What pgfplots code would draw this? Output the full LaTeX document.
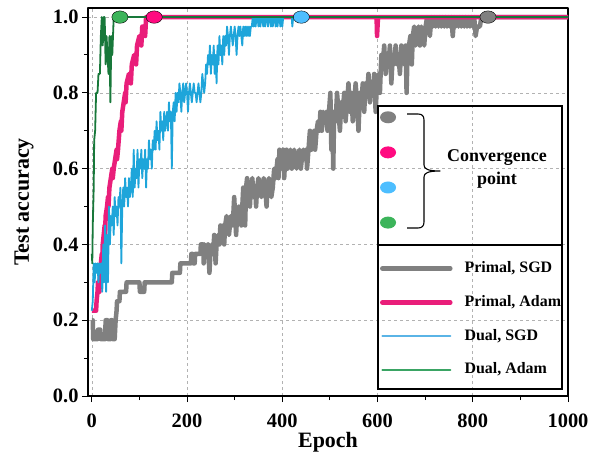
\documentclass[border=0pt]{standalone}
\usepackage{pgfplots}
\pgfplotsset{compat=1.18}
\usepackage{fontspec}
\setmainfont{Liberation Serif}
\definecolor{cgray}{HTML}{808080}
\definecolor{cpink}{HTML}{E91E7A}
\definecolor{cblue}{HTML}{1EA5DA}
\definecolor{cgreen}{HTML}{18783A}
\definecolor{dpink}{HTML}{FF0A80}
\definecolor{dblue}{HTML}{4DBEFF}
\definecolor{dgreen}{HTML}{3CB45A}
\definecolor{lblue}{HTML}{5AB4E6}
\definecolor{lgreen}{HTML}{3AA464}
\begin{document}
\begin{tikzpicture}
\begin{axis}[
 name=main,
 scale only axis, width=480bp, height=388bp,
 xmin=-8, xmax=1000, ymin=0, ymax=1.024,
 xtick={0,200,400,600,800,1000}, ytick={0,0.2,0.4,0.6,0.8,1.0},
 minor x tick num=1, minor y tick num=1,
 tick align=outside, xtick pos=left, ytick pos=left,
 major tick length=6bp, minor tick length=4bp,
 every tick/.style={black, line width=1bp},
 axis line style={line width=1.3bp},
 grid=major, major grid style={dash pattern=on 3bp off 3bp, gray!60, line width=0.6bp},
 tick label style={font=\fontsize{20.5}{24}\selectfont\bfseries},
 /pgf/number format/assume math mode=true,
 /pgf/number format/1000 sep={},
 xticklabel style={yshift=-8bp},
 yticklabel style={/pgf/number format/fixed, /pgf/number format/fixed zerofill, /pgf/number format/precision=1},
 xlabel={Epoch}, ylabel={Test accuracy},
 label style={font=\fontsize{22}{26}\selectfont\bfseries},
 xlabel style={at={(axis description cs:0.5,0)}, anchor=base, yshift=-51bp},
 ylabel style={at={(axis description cs:-0.133,0.5)}, anchor=center},
 legend image code/.code={\draw[#1, line cap=round] (0bp,0bp) -- (68bp,0bp);},
 legend cell align=left,
 legend style={at={(axis description cs:0.608,0.3477)}, anchor=north west, draw=none, fill=none,
   inner sep=0pt, row sep=19.4bp, column sep=12bp,
   font=\fontsize{16}{19}\selectfont\bfseries,
   nodes={inner sep=0pt, text height=11bp, text depth=3.5bp}},
 line join=round,
]
\addplot[forget plot, color=cgray, line width=4.5bp] coordinates {
(0,0.2) (2,0.2) (3,0.15) (12,0.15) (13,0.175) (18,0.175) (19,0.15) (28,0.15) (29,0.2) (33,0.2) (34,0.15) (39,0.15) (40,0.2) (43,0.2) (44,0.15) (48,0.15) (50,0.2) (52,0.225) (53,0.25) (58,0.25) (59,0.275) (72,0.275) (73,0.3) (100,0.3) (101,0.275) (110,0.275) (111,0.3) (168,0.3) (169,0.325) (185,0.325) (186,0.35) (208,0.35) (209,0.375) (212,0.375) (213,0.35) (216,0.35) (217,0.375) (228,0.375) (229,0.4) (234,0.4) (235,0.35) (237,0.4) (241,0.375) (244,0.4) (247,0.325) (249,0.375) (252,0.4) (255,0.375) (257,0.425) (260,0.35) (262,0.4) (265,0.425) (268,0.4) (270,0.45) (273,0.425) (276,0.45) (278,0.4) (280,0.45) (283,0.475) (285,0.45) (288,0.425) (290,0.45) (292,0.475) (295,0.45) (297,0.475) (299,0.525) (301,0.475) (303,0.425) (305,0.475) (308,0.5) (310,0.475) (312,0.5) (314,0.45) (316,0.5) (318,0.55) (320,0.525) (322,0.45) (324,0.55) (326,0.575) (328,0.525) (330,0.55) (332,0.5) (334,0.55) (337,0.575) (340,0.525) (343,0.55) (345,0.5) (347,0.55) (350,0.575) (353,0.55) (356,0.525) (358,0.55) (361,0.575) (364,0.55) (367,0.5) (369,0.55) (372,0.575) (375,0.55) (377,0.525) (380,0.55) (383,0.6) (386,0.575) (388,0.6) (390,0.625) (392,0.575) (394,0.65) (397,0.6) (399,0.625) (402,0.65) (404,0.575) (406,0.625) (409,0.65) (411,0.6) (414,0.625) (417,0.65) (420,0.6) (422,0.625) (425,0.65) (428,0.625) (430,0.6) (433,0.625) (436,0.65) (439,0.6) (441,0.625) (444,0.65) (447,0.625) (450,0.65) (452,0.6) (455,0.65) (458,0.7) (461,0.65) (463,0.675) (466,0.7) (469,0.65) (472,0.7) (475,0.725) (478,0.7) (480,0.75) (483,0.7) (486,0.75) (489,0.725) (492,0.75) (495,0.7) (498,0.75) (501,0.8) (503,0.65) (505,0.75) (507,0.6) (509,0.75) (512,0.725) (515,0.8) (518,0.75) (521,0.7) (524,0.775) (527,0.75) (530,0.8) (533,0.725) (536,0.775) (539,0.825) (542,0.75) (545,0.8) (548,0.725) (551,0.775) (554,0.825) (557,0.775) (560,0.7) (563,0.8) (566,0.775) (569,0.825) (572,0.75) (575,0.825) (578,0.8) (581,0.85) (584,0.775) (587,0.825) (590,0.8) (593,0.85) (596,0.75) (599,0.825) (602,0.85) (605,0.8) (608,0.9) (611,0.875) (614,0.925) (617,0.85) (620,0.9) (623,0.875) (626,0.925) (629,0.825) (632,0.9) (635,0.875) (638,0.925) (641,0.875) (644,0.9) (647,0.85) (650,0.925) (653,0.9) (656,0.875) (659,0.925) (661,0.8) (663,0.9) (666,0.925) (669,0.95) (672,0.875) (674,0.95) (677,0.975) (680,0.925) (683,0.95) (686,0.975) (689,0.925) (692,0.975) (695,0.95) (698,0.925) (701,0.975) (704,1.0) (707,0.975) (710,0.95) (713,1.0) (716,0.975) (719,1.0) (722,0.975) (725,1.0) (728,0.975) (731,1.0) (734,0.975) (737,1.0) (740,0.975) (743,1.0) (746,0.975) (749,1.0) (752,0.975) (755,1.0) (758,0.95) (761,1.0) (764,0.975) (767,1.0) (770,0.975) (773,1.0) (776,0.975) (779,1.0) (782,0.975) (785,1.0) (788,0.975) (791,1.0) (794,0.975) (797,1.0) (800,0.975) (803,1.0) (806,0.95) (809,0.975) (815,0.975) (818,1.0) (1000,1.0)
};
\addplot[forget plot, color=cpink, line width=4.5bp] coordinates {
(0,0.225) (9,0.225) (10,0.25) (12,0.275) (13,0.3) (15,0.3) (16,0.275) (17,0.325) (19,0.35) (21,0.375) (22,0.35) (23,0.4) (25,0.425) (27,0.45) (28,0.425) (29,0.475) (32,0.5) (34,0.525) (35,0.5) (37,0.55) (40,0.575) (43,0.6) (44,0.575) (46,0.6) (49,0.625) (52,0.65) (53,0.625) (55,0.65) (58,0.7) (61,0.725) (62,0.7) (64,0.75) (67,0.775) (70,0.8) (71,0.775) (73,0.825) (78,0.85) (81,0.85) (82,0.825) (84,0.875) (89,0.9) (92,0.9) (93,0.875) (95,0.925) (100,0.95) (103,0.95) (104,0.925) (106,0.975) (111,0.975) (112,0.95) (114,1.0) (598,1.0) (599,0.95) (601,1.0) (1000,1.0)
};
\addplot[forget plot, color=cblue, line width=1.8bp] coordinates {
(0,0.225) (2,0.25) (4,0.35) (6,0.3) (8,0.35) (10,0.325) (12,0.35) (14,0.3) (16,0.35) (18,0.325) (20,0.35) (22,0.275) (24,0.4) (26,0.3) (28,0.45) (30,0.275) (32,0.425) (34,0.3) (36,0.5) (38,0.4) (40,0.475) (42,0.45) (44,0.5) (46,0.425) (48,0.525) (50,0.475) (52,0.5) (54,0.45) (56,0.525) (58,0.5) (60,0.55) (62,0.35) (64,0.5) (66,0.55) (68,0.5) (70,0.575) (72,0.525) (74,0.55) (76,0.5) (78,0.575) (80,0.525) (82,0.55) (84,0.6) (86,0.525) (88,0.65) (90,0.55) (92,0.6) (94,0.575) (96,0.65) (98,0.55) (100,0.625) (102,0.6) (104,0.65) (106,0.575) (108,0.625) (110,0.6) (112,0.65) (114,0.55) (116,0.625) (118,0.6) (120,0.675) (122,0.625) (124,0.65) (126,0.6) (128,0.675) (130,0.65) (132,0.7) (134,0.65) (136,0.725) (138,0.675) (140,0.7) (142,0.65) (144,0.75) (146,0.7) (148,0.725) (150,0.675) (152,0.75) (154,0.7) (156,0.725) (158,0.75) (160,0.7) (162,0.775) (164,0.725) (166,0.75) (168,0.6) (170,0.75) (172,0.775) (174,0.725) (176,0.8) (178,0.75) (180,0.8) (182,0.775) (184,0.825) (186,0.8) (188,0.75) (190,0.8) (192,0.825) (194,0.775) (196,0.8) (198,0.825) (200,0.8) (202,0.75) (204,0.8) (206,0.825) (208,0.8) (210,0.775) (212,0.8) (214,0.825) (216,0.8) (218,0.8) (220,0.775) (222,0.8) (224,0.825) (226,0.8) (228,0.775) (230,0.8) (232,0.85) (234,0.825) (236,0.8) (238,0.825) (240,0.875) (242,0.85) (244,0.9) (246,0.875) (248,0.925) (250,0.85) (252,0.9) (254,0.875) (256,0.925) (258,0.85) (260,0.9) (262,0.825) (264,0.925) (266,0.875) (268,0.95) (270,0.9) (272,0.925) (274,0.875) (276,0.95) (278,0.9) (280,0.95) (282,0.925) (284,0.975) (286,0.95) (288,0.9) (290,0.95) (292,0.975) (294,0.95) (296,0.925) (298,0.95) (300,0.975) (302,0.95) (304,0.9) (306,0.95) (308,0.975) (310,0.95) (312,0.975) (314,0.95) (316,0.925) (318,0.975) (320,0.95) (322,0.975) (324,0.95) (326,0.975) (328,0.95) (330,0.975) (332,0.95) (334,0.975) (336,0.975) (338,1.0) (340,0.975) (342,1.0) (344,0.975) (346,1.0) (348,1.0) (350,0.975) (352,1.0) (354,0.975) (356,1.0) (358,1.0) (360,0.975) (362,1.0) (364,0.975) (366,1.0) (368,1.0) (370,0.975) (372,1.0) (374,1.0) (376,0.975) (378,1.0) (380,0.975) (382,1.0) (384,1.0) (386,0.975) (388,1.0) (390,0.975) (392,1.0) (394,1.0) (396,0.975) (398,1.0) (400,0.975) (402,1.0) (420,1.0) (421,0.975) (423,1.0) (1000,1.0)
};
\addplot[forget plot, color=cgreen, line width=1.8bp] coordinates {
(0,0.375) (1,0.35) (2,0.45) (4,0.55) (5,0.675) (7,0.7) (9,0.8) (12,0.8) (14,0.85) (17,0.85) (19,0.95) (21,1.0) (23,0.925) (25,1.0) (27,1.0) (29,0.875) (31,0.95) (33,0.9) (35,0.85) (37,0.95) (39,0.775) (41,0.95) (43,0.9) (46,1.0) (1000,1.0)
};
\addplot[forget plot, only marks, mark=*, mark size=6.2bp, mark options={xscale=1.3, draw=none, fill=cgray}] coordinates {(832,1)};
\addplot[forget plot, only marks, mark=*, mark size=6.2bp, mark options={xscale=1.3, draw=none, fill=dpink}] coordinates {(131,1)};
\addplot[forget plot, only marks, mark=*, mark size=6.2bp, mark options={xscale=1.3, draw=none, fill=dblue}] coordinates {(440,1)};
\addplot[forget plot, only marks, mark=*, mark size=6.2bp, mark options={xscale=1.3, draw=none, fill=dgreen}] coordinates {(59,1)};
\addlegendimage{color=cgray, line width=4.5bp}
\addlegendentry{Primal, SGD}
\addlegendimage{color=cpink, line width=4.5bp}
\addlegendentry{Primal, Adam}
\addlegendimage{color=lblue, line width=2bp}
\addlegendentry{Dual, SGD}
\addlegendimage{color=lgreen, line width=2bp}
\addlegendentry{Dual, Adam}
\end{axis}
\begin{axis}[
 scale only axis, width=480bp, height=388bp, hide axis,
 xmin=0, xmax=1, ymin=0, ymax=1,
 legend image code/.code={\fill[#1] (17bp,0bp) ellipse [x radius=8bp, y radius=6bp];},
 legend style={at={(axis description cs:0.608,0.7375)}, anchor=north west, draw=none, fill=none,
   inner sep=0pt, row sep=20.6bp, column sep=0bp,
   font=\fontsize{16}{19}\selectfont\bfseries,
   nodes={inner sep=0pt, text height=11bp, text depth=3.5bp}},
]
\addlegendimage{fill=cgray, draw=none}
\addlegendentry{}
\addlegendimage{fill=dpink, draw=none}
\addlegendentry{}
\addlegendimage{fill=dblue, draw=none}
\addlegendentry{}
\addlegendimage{fill=dgreen, draw=none}
\addlegendentry{}
\end{axis}
\begin{scope}[shift={(main.south west)}, x=1bp, y=-1bp, shift={(-88,-396)}]
\path (0,0) rectangle (597,450);
\draw[line width=1.2bp] (378,106) rectangle (562,389);
\draw[line width=1.2bp] (378,245) -- (562,245);
\draw[line width=1.1bp, line join=round] (407,114) -- (418,114) .. controls (422,114) and (424,116) .. (424,120) -- (424,165) .. controls (424,169) and (428,171) .. (440,171) .. controls (428,171) and (424,173) .. (424,177) -- (424,222) .. controls (424,226) and (422,228) .. (418,228) -- (407,228);
\node[align=center, font=\fontsize{18}{23}\selectfont\bfseries] at (497,169) {Convergence\\point};
\end{scope}
\end{tikzpicture}
\end{document}
